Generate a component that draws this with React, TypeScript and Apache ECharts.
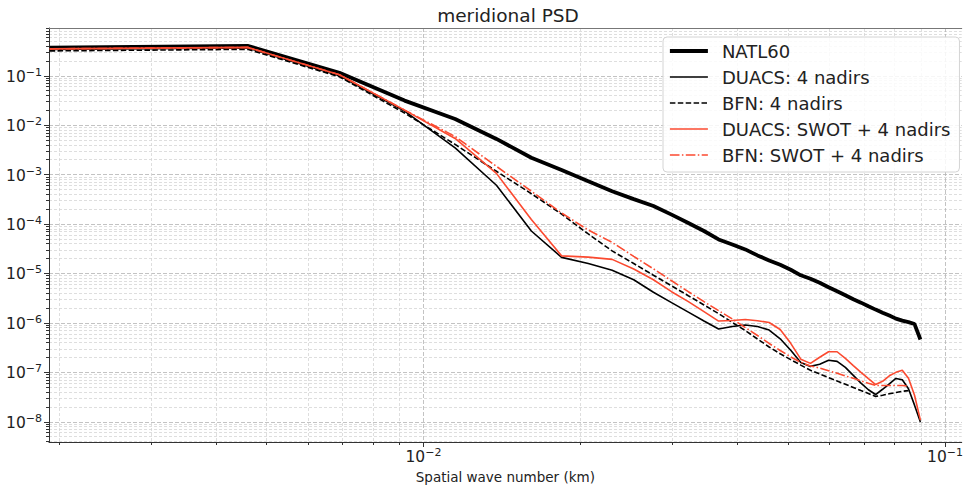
import React, { useEffect, useRef } from 'react';
import * as echarts from 'echarts';

// Spatial wave numbers (1/km)
const WAVENUMBER = [
  0.00192, 0.0046, 0.0069, 0.0092, 0.0115, 0.0138, 0.0161, 0.0184, 0.0207, 0.023,
  0.0253, 0.0276, 0.0299, 0.0322, 0.0345, 0.0368, 0.0391, 0.0414, 0.0437, 0.046,
  0.0483, 0.0506, 0.0529, 0.0552, 0.0575, 0.0598, 0.0621, 0.0644, 0.0667, 0.069,
  0.0713, 0.0736, 0.0759, 0.0782, 0.0805, 0.0828, 0.0851, 0.0874, 0.0897,
];

const NATL60 = [
  0.372, 0.402, 0.115, 0.0314, 0.0133, 0.00527, 0.00219, 0.00124, 7.34e-4, 4.62e-4,
  3.19e-4, 2.31e-4, 1.55e-4, 1.05e-4, 7.23e-5, 4.88e-5, 3.87e-5, 3.07e-5, 2.32e-5, 1.84e-5,
  1.5e-5, 1.19e-5, 9.19e-6, 7.81e-6, 6.49e-6, 5.27e-6, 4.38e-6, 3.64e-6, 3.02e-6, 2.57e-6,
  2.18e-6, 1.86e-6, 1.61e-6, 1.41e-6, 1.22e-6, 1.11e-6, 1.04e-6, 9.48e-7, 4.62e-7,
];

const DUACS_4NADIRS = [
  0.342, 0.366, 0.1, 0.0193, 0.00347, 6.1e-4, 7.23e-5, 2.12e-5, 1.59e-5, 1.16e-5,
  7.46e-6, 4.18e-6, 2.57e-6, 1.65e-6, 1.09e-6, 7.52e-7, 8.45e-7, 9.06e-7, 8.45e-7, 7.18e-7,
  4.77e-7, 2.79e-7, 1.59e-7, 1.32e-7, 1.46e-7, 1.76e-7, 1.67e-7, 1.26e-7, 8.71e-8, 6.07e-8,
  4.45e-8, 3.56e-8, 4.55e-8, 5.87e-8, 7.52e-8, 7.06e-8, 4.66e-8, 2.17e-8, 9.86e-9,
];

const BFN_4NADIRS = [
  0.318, 0.342, 0.0955, 0.0176, 0.00408, 0.00117, 4.11e-4, 1.59e-4, 6.3e-5, 2.86e-5,
  1.59e-5, 9.23e-6, 5.62e-6, 3.54e-6, 2.31e-6, 1.54e-6, 1.02e-6, 7.02e-7, 4.73e-7, 3.26e-7,
  2.38e-7, 1.81e-7, 1.4e-7, 1.1e-7, 9.25e-8, 7.83e-8, 6.68e-8, 5.74e-8, 4.95e-8, 4.28e-8,
  3.73e-8, 3.26e-8, 3.44e-8, 3.68e-8, 3.91e-8, 4.15e-8, 4.27e-8,
];

const DUACS_SWOT = [
  0.35, 0.375, 0.105, 0.0202, 0.00539, 0.00106, 1.23e-4, 2.27e-5, 2.14e-5, 1.93e-5,
  1.23e-5, 7.46e-6, 4.28e-6, 2.69e-6, 1.69e-6, 1.09e-6, 1.12e-6, 1.17e-6, 1.11e-6, 1.02e-6,
  7.35e-7, 3.86e-7, 1.85e-7, 1.52e-7, 2.02e-7, 2.61e-7, 2.61e-7, 1.91e-7, 1.37e-7, 1.0e-7,
  7.48e-8, 5.66e-8, 6.59e-8, 8.51e-8, 1.0e-7, 1.1e-7, 7.59e-8, 3.44e-8, 1.08e-8,
];

const BFN_SWOT = [
  0.35, 0.375, 0.105, 0.0202, 0.00591, 0.00147, 4.62e-4, 1.67e-4, 7.57e-5, 4.25e-5,
  2.22e-5, 1.24e-5, 7.13e-6, 4.28e-6, 2.69e-6, 1.77e-6, 1.2e-6, 8.06e-7, 5.56e-7, 3.84e-7,
  2.77e-7, 2.05e-7, 1.59e-7, 1.35e-7, 1.22e-7, 1.08e-7, 9.55e-8, 8.47e-8, 7.59e-8, 6.75e-8,
  6.01e-8, 5.43e-8, 5.42e-8, 5.42e-8, 5.42e-8, 5.42e-8, 5.23e-8,
];

const SERIES_NAMES = [
  'NATL60',
  'DUACS: 4 nadirs',
  'BFN: 4 nadirs',
  'DUACS: SWOT + 4 nadirs',
  'BFN: SWOT + 4 nadirs',
];

// axis ranges (powers of ten) and tick exponents
const X_LOG_RANGE = [-2.718, -0.968];
const Y_LOG_RANGE = [-8.409, -0.034];
const X_MAJOR_EXP = [-2, -1];
const Y_MAJOR_EXP = [-8, -7, -6, -5, -4, -3, -2, -1];
const MINOR_MULT = [2, 3, 4, 5, 6, 7, 8, 9];

const TITLE = 'meridional PSD';
const X_NAME = 'Spatial wave number (km)';

const FONT = 'DejaVu Sans';
const RED = '#fb4a30';

function minorValues(range: number[]) {
  const out: number[] = [];
  for (let e = Math.floor(range[0]); e <= Math.ceil(range[1]); e++) {
    for (const m of MINOR_MULT) {
      const v = e + Math.log10(m);
      if (v > range[0] && v < range[1]) out.push(v);
    }
  }
  return out;
}

function pairs(values: number[]) {
  return values.map((v, i) => [Math.log10(WAVENUMBER[i]), Math.log10(v)]);
}

const expLabel = (v: number) => {
  const e = Math.round(v);
  return `{b|10}{s|${e < 0 ? '\u2212' : ''}${Math.abs(e)}}`;
};

const labelRich = {
  b: { fontSize: 15.5, fontFamily: FONT, color: '#222', lineHeight: 18, verticalAlign: 'bottom' },
  s: { fontSize: 11, fontFamily: FONT, color: '#222', lineHeight: 18, verticalAlign: 'top', padding: [0, 0, 6, 0] },
};

export default function App() {
  const ref = useRef<HTMLDivElement>(null);
  useEffect(() => {
    if (!ref.current) return;
    const chart = echarts.init(ref.current, undefined, { renderer: 'svg' });
    const xMinor = minorValues(X_LOG_RANGE);
    const yMinor = minorValues(Y_LOG_RANGE);
    const majorGrid = { show: true, lineStyle: { color: '#b4b4b4', width: 0.8, type: [4, 2] } };
    const minorGrid = { show: true, lineStyle: { color: '#d6d6d6', width: 0.8, type: [3, 2] } };

    const option: any = {
      animation: false,
      backgroundColor: '#ffffff',
      grid: { left: 49, top: 28, right: 0, bottom: 45, containLabel: false },
      graphic: [
        {
          type: 'text',
          x: 508,
          y: 15,
          style: {
            text: TITLE,
            fontSize: 18.5,
            fontFamily: FONT,
            fill: '#222',
            textAlign: 'center',
            textVerticalAlign: 'middle',
            align: 'center',
            verticalAlign: 'middle',
          },
        },
      ],
      legend: {
        data: SERIES_NAMES,
        orient: 'vertical',
        left: 663,
        top: 37,
        itemWidth: 38,
        itemHeight: 14,
        itemGap: 6,
        padding: [4, 9, 7, 5],
        backgroundColor: 'rgba(255,255,255,0.85)',
        borderColor: '#d4d4d4',
        borderWidth: 1,
        borderRadius: 4,
        itemStyle: { opacity: 0, borderWidth: 0 },
        lineStyle: { width: 'inherit' },
        textStyle: { fontSize: 18, fontFamily: FONT, color: '#222', lineHeight: 20, padding: [0, 0, 0, 9] },
        selectedMode: false,
      },
      xAxis: [
        {
          type: 'value',
          min: X_LOG_RANGE[0],
          max: X_LOG_RANGE[1],
          position: 'bottom',
          axisLine: { show: true, lineStyle: { color: '#333', width: 1 } },
          axisTick: { show: true, customValues: X_MAJOR_EXP, length: 5, lineStyle: { color: '#333' } },
          axisLabel: { customValues: X_MAJOR_EXP, formatter: expLabel, rich: labelRich, margin: 5 },
          splitLine: majorGrid,
          name: X_NAME,
          nameLocation: 'middle',
          nameGap: 28,
          nameTextStyle: { fontSize: 13.5, fontFamily: FONT, color: '#222' },
        },
        {
          type: 'value',
          min: X_LOG_RANGE[0],
          max: X_LOG_RANGE[1],
          position: 'bottom',
          axisLine: { show: false },
          axisTick: { show: true, customValues: xMinor, length: 3, lineStyle: { color: '#333' } },
          axisLabel: { show: false, customValues: xMinor },
          splitLine: minorGrid,
        },
        {
          type: 'value',
          min: X_LOG_RANGE[0],
          max: X_LOG_RANGE[1],
          position: 'top',
          axisLine: { show: true, lineStyle: { color: '#777', width: 1 } },
          axisTick: { show: false },
          axisLabel: { show: false },
          splitLine: { show: false },
        },
      ],
      yAxis: [
        {
          type: 'value',
          min: Y_LOG_RANGE[0],
          max: Y_LOG_RANGE[1],
          position: 'left',
          axisLine: { show: true, lineStyle: { color: '#333', width: 1 } },
          axisTick: { show: true, customValues: Y_MAJOR_EXP, length: 5, lineStyle: { color: '#333' } },
          axisLabel: { customValues: Y_MAJOR_EXP, formatter: expLabel, rich: labelRich, margin: 7 },
          splitLine: majorGrid,
        },
        {
          type: 'value',
          min: Y_LOG_RANGE[0],
          max: Y_LOG_RANGE[1],
          position: 'left',
          axisLine: { show: false },
          axisTick: { show: true, customValues: yMinor, length: 3, lineStyle: { color: '#333' } },
          axisLabel: { show: false, customValues: yMinor },
          splitLine: minorGrid,
        },
      ],
      series: [
        {
          name: SERIES_NAMES[0],
          type: 'line',
          symbol: 'none',
          data: pairs(NATL60),
          lineStyle: { color: '#000', width: 3.8 },
          itemStyle: { color: '#000' },
          z: 3,
        },
        {
          name: SERIES_NAMES[1],
          type: 'line',
          symbol: 'none',
          data: pairs(DUACS_4NADIRS),
          lineStyle: { color: '#000', width: 1.6 },
          itemStyle: { color: '#000' },
          z: 4,
        },
        {
          name: SERIES_NAMES[2],
          type: 'line',
          symbol: 'none',
          data: pairs(BFN_4NADIRS),
          lineStyle: { color: '#000', width: 1.6, type: [5.5, 2.4] },
          itemStyle: { color: '#000' },
          z: 5,
        },
        {
          name: SERIES_NAMES[3],
          type: 'line',
          symbol: 'none',
          data: pairs(DUACS_SWOT),
          lineStyle: { color: RED, width: 1.6 },
          itemStyle: { color: RED },
          z: 6,
        },
        {
          name: SERIES_NAMES[4],
          type: 'line',
          symbol: 'none',
          data: pairs(BFN_SWOT),
          lineStyle: { color: RED, width: 1.6, type: [9.6, 2.4, 1.5, 2.4] },
          itemStyle: { color: RED },
          z: 7,
        },
      ],
    };
    chart.setOption(option);
    return () => chart.dispose();
  }, []);
  return <div ref={ref} style={{ position: 'absolute', left: 0, top: 0, width: 966, height: 489 }} />;
}
